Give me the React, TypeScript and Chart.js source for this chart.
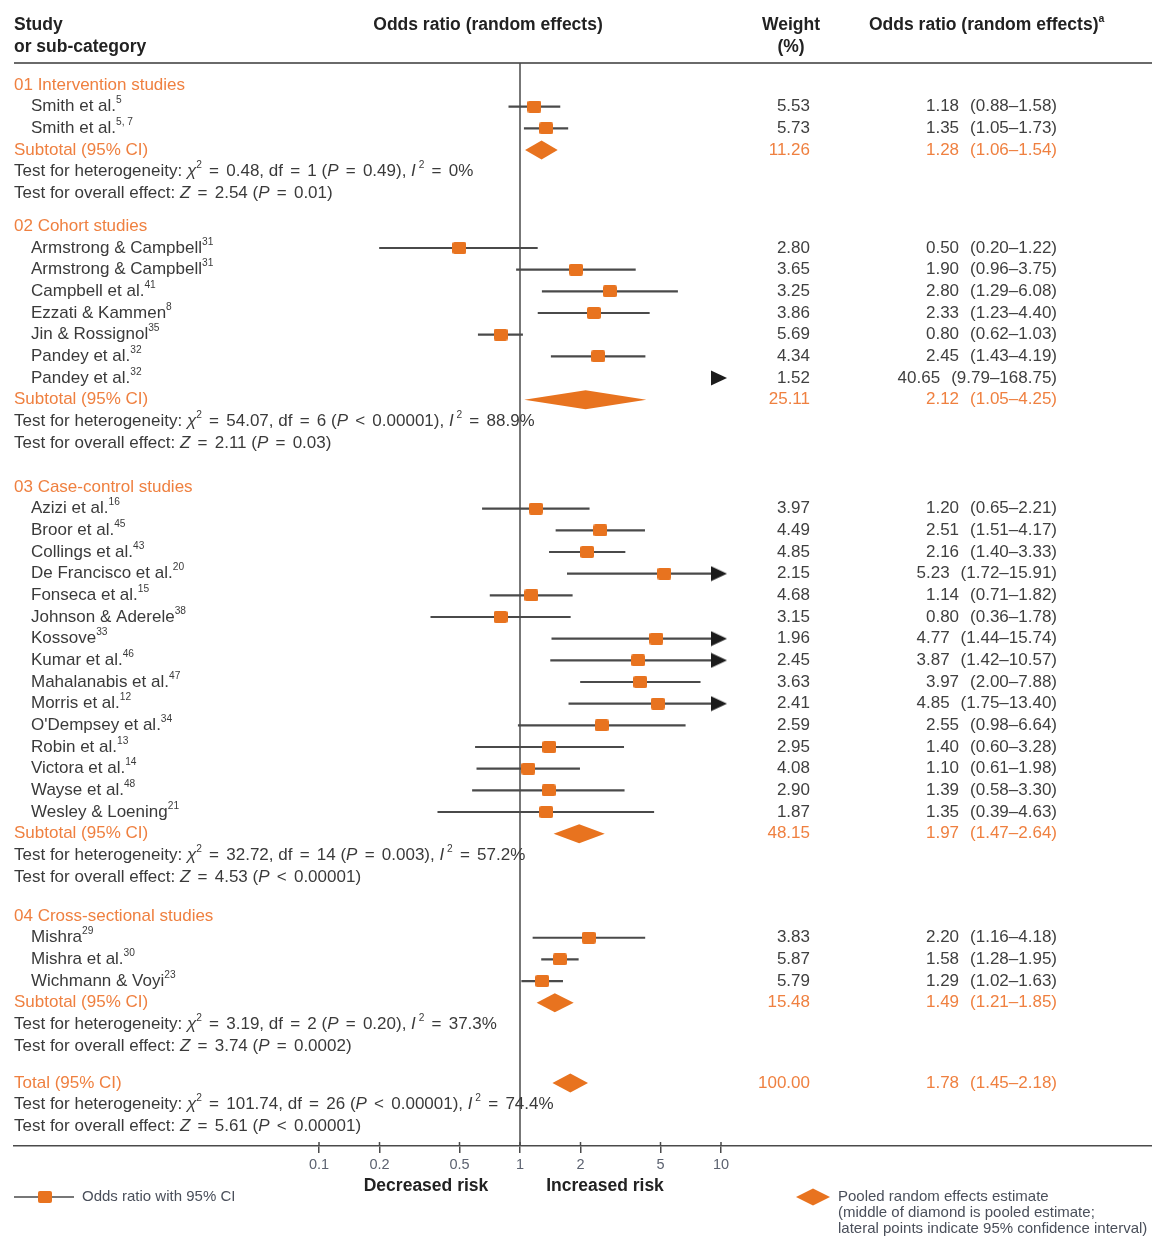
import React, { useEffect, useRef } from 'react';
import { Chart, registerables } from 'chart.js';

Chart.register(...registerables);

const W = 1152;
const H = 1238;

// ---------------- DATA ----------------
const groupTitles = ['01 Intervention studies', '02 Cohort studies', '03 Case-control studies', '04 Cross-sectional studies'];

const studyNames = ['Smith et al.', 'Smith et al.', 'Armstrong & Campbell', 'Armstrong & Campbell', 'Campbell et al.', 'Ezzati & Kammen', 'Jin & Rossignol', 'Pandey et al.', 'Pandey et al.', 'Azizi et al.', 'Broor et al.', 'Collings et al.', 'De Francisco et al.', 'Fonseca et al.', 'Johnson & Aderele', 'Kossove', 'Kumar et al.', 'Mahalanabis et al.', 'Morris et al.', "O'Dempsey et al.", 'Robin et al.', 'Victora et al.', 'Wayse et al.', 'Wesley & Loening', 'Mishra', 'Mishra et al.', 'Wichmann & Voyi'];
const studyRefs = ['5', '5, 7', '31', '31', '41', '8', '35', '32', '32', '16', '45', '43', '20', '15', '38', '33', '46', '47', '12', '34', '13', '14', '48', '21', '29', '30', '23'];
const studyGroup = [0, 0, 1, 1, 1, 1, 1, 1, 1, 2, 2, 2, 2, 2, 2, 2, 2, 2, 2, 2, 2, 2, 2, 2, 3, 3, 3];
const studyOR = [1.18, 1.35, 0.5, 1.9, 2.8, 2.33, 0.8, 2.45, 40.65, 1.2, 2.51, 2.16, 5.23, 1.14, 0.8, 4.77, 3.87, 3.97, 4.85, 2.55, 1.4, 1.1, 1.39, 1.35, 2.2, 1.58, 1.29];
const studyLow = [0.88, 1.05, 0.2, 0.96, 1.29, 1.23, 0.62, 1.43, 9.79, 0.65, 1.51, 1.4, 1.72, 0.71, 0.36, 1.44, 1.42, 2.0, 1.75, 0.98, 0.6, 0.61, 0.58, 0.39, 1.16, 1.28, 1.02];
const studyHigh = [1.58, 1.73, 1.22, 3.75, 6.08, 4.4, 1.03, 4.19, 168.75, 2.21, 4.17, 3.33, 15.91, 1.82, 1.78, 15.74, 10.57, 7.88, 13.4, 6.64, 3.28, 1.98, 3.3, 4.63, 4.18, 1.95, 1.63];
const studyWeight = ['5.53', '5.73', '2.80', '3.65', '3.25', '3.86', '5.69', '4.34', '1.52', '3.97', '4.49', '4.85', '2.15', '4.68', '3.15', '1.96', '2.45', '3.63', '2.41', '2.59', '2.95', '4.08', '2.90', '1.87', '3.83', '5.87', '5.79'];

const subtotalOR = [1.28, 2.12, 1.97, 1.49];
const subtotalLow = [1.06, 1.05, 1.47, 1.21];
const subtotalHigh = [1.54, 4.25, 2.64, 1.85];
const subtotalWeight = ['11.26', '25.11', '48.15', '15.48'];

const totalOR = 1.78;
const totalLow = 1.45;
const totalHigh = 2.18;
const totalWeight = '100.00';

// index 0-3: groups, 4: total
const hetChi = ['0.48', '54.07', '32.72', '3.19', '101.74'];
const hetDf = ['1', '6', '14', '2', '26'];
const hetP = ['= 0.49', '< 0.00001', '= 0.003', '= 0.20', '< 0.00001'];
const hetI2 = ['0%', '88.9%', '57.2%', '37.3%', '74.4%'];
const overallZ = ['2.54', '2.11', '4.53', '3.74', '5.61'];
const overallP = ['= 0.01', '= 0.03', '< 0.00001', '= 0.0002', '< 0.00001'];

const xTicks = [0.1, 0.2, 0.5, 1, 2, 5, 10];
const clipMax = 10;

// ---------------- LAYOUT / STYLE ----------------
const FONT = '"Liberation Sans", Arial, Helvetica, sans-serif';
const ORANGE = '#E8731F';
const ORANGE_TXT = '#EF8040';
const TEXT = '#3a3a3a';
const NUM = '#404040';
const LINE = '#4a4a4a';
const BODY = 17;
const HEAD = 17.5;
const OP_PAD = 2.5;

const ROW = 21.67;
const FIRST_ROW_PX = 85;
const AXIS_PX = 1146;
const HEADER_LINE_PX = 63;
const LEFT = 14;
const ONE_PX = 520;
const DECADE_PX = 201;
const GROUP_GAP = [0, 1.52, 2.03, 1.8];
const TOTAL_GAP = 1.7;

const xMin = Math.pow(10, -(ONE_PX - LEFT) / DECADE_PX);
const xMax = Math.pow(10, (W - ONE_PX) / DECADE_PX);
const yMin = -FIRST_ROW_PX / ROW;
const yMax = yMin + AXIS_PX / ROW;

type Row = { kind: string; pos: number; i: number };

function buildRows(): Row[] {
  const rows: Row[] = [];
  let pos = 0;
  let last = 0;
  groupTitles.forEach((_, g) => {
    if (g > 0) pos = last + GROUP_GAP[g];
    rows.push({ kind: 'group', pos, i: g });
    studyGroup.forEach((sg, s) => {
      if (sg === g) {
        pos += 1;
        rows.push({ kind: 'study', pos, i: s });
      }
    });
    pos += 1;
    rows.push({ kind: 'subtotal', pos, i: g });
    pos += 1;
    rows.push({ kind: 'het', pos, i: g });
    pos += 1;
    rows.push({ kind: 'overall', pos, i: g });
    last = pos;
  });
  pos = last + TOTAL_GAP;
  rows.push({ kind: 'total', pos, i: 4 });
  pos += 1;
  rows.push({ kind: 'het', pos, i: 4 });
  pos += 1;
  rows.push({ kind: 'overall', pos, i: 4 });
  return rows;
}

type Seg = { t: string; it?: boolean; sup?: boolean; bold?: boolean };

function drawRich(ctx: CanvasRenderingContext2D, segs: Seg[], x: number, y: number, size: number, color: string) {
  let cx = x;
  ctx.fillStyle = color;
  ctx.textAlign = 'left';
  ctx.textBaseline = 'middle';
  for (const s of segs) {
    const fs = s.sup ? size * 0.6 : size;
    ctx.font = `${s.it ? 'italic ' : ''}${s.bold ? 'bold ' : ''}${fs}px ${FONT}`;
    const dy = s.sup ? -size * 0.36 : 0;
    const parts = s.t.split(/( [=<] )/);
    for (const p of parts) {
      if (!p) continue;
      const isOp = p === ' = ' || p === ' < ';
      if (isOp) cx += OP_PAD;
      ctx.fillText(p, cx, y + dy);
      cx += ctx.measureText(p).width;
      if (isOp) cx += OP_PAD;
    }
  }
  return cx;
}

function hetSegs(i: number): Seg[] {
  return [
    { t: 'Test for heterogeneity: ' },
    { t: 'χ', it: true },
    { t: '2', sup: true },
    { t: ` = ${hetChi[i]}, df = ${hetDf[i]} (` },
    { t: 'P', it: true },
    { t: ` ${hetP[i]}), ` },
    { t: 'I', it: true },
    { t: ' 2', sup: true },
    { t: ` = ${hetI2[i]}` },
  ];
}

function overallSegs(i: number): Seg[] {
  return [
    { t: 'Test for overall effect: ' },
    { t: 'Z', it: true },
    { t: ` = ${overallZ[i]} (` },
    { t: 'P', it: true },
    { t: ` ${overallP[i]})` },
  ];
}

function makeSquare(): HTMLCanvasElement {
  const c = document.createElement('canvas');
  c.width = 14;
  c.height = 12;
  const g = c.getContext('2d')!;
  g.fillStyle = ORANGE;
  g.beginPath();
  if ((g as any).roundRect) (g as any).roundRect(0, 0, 14, 12, 2);
  else g.rect(0, 0, 14, 12);
  g.fill();
  return c;
}

function makeArrow(): HTMLCanvasElement {
  const c = document.createElement('canvas');
  c.width = 20;
  c.height = 16;
  const g = c.getContext('2d')!;
  g.fillStyle = '#1c1c1c';
  g.beginPath();
  g.moveTo(0, 0.5);
  g.lineTo(16, 8);
  g.lineTo(0, 15.5);
  g.closePath();
  g.fill();
  return c;
}

function diamond(ctx: CanvasRenderingContext2D, xl: number, xc: number, xr: number, y: number, hh: number) {
  ctx.beginPath();
  ctx.moveTo(xl, y);
  ctx.lineTo(xc, y - hh);
  ctx.lineTo(xr, y);
  ctx.lineTo(xc, y + hh);
  ctx.closePath();
  ctx.fill();
}

function fmt(v: number) {
  return v.toFixed(2);
}

export default function App() {
  const ref = useRef<HTMLCanvasElement | null>(null);

  useEffect(() => {
    document.body.style.margin = '0';
    const canvas = ref.current;
    if (!canvas) return;
    const rows = buildRows();
    const studyRows = rows.filter((r) => r.kind === 'study');
    const square = makeSquare();
    const arrow = makeArrow();

    const ciData = studyRows.map((r) => ({
      x: [Math.max(studyLow[r.i], xMin), Math.min(studyHigh[r.i], clipMax)],
      y: r.pos,
    }));
    const pointData = studyRows.filter((r) => studyOR[r.i] <= clipMax).map((r) => ({ x: studyOR[r.i], y: r.pos }));
    const arrowData = studyRows.filter((r) => studyHigh[r.i] > clipMax).map((r) => ({ x: clipMax, y: r.pos }));

    const forestPlugin = {
      id: 'forest',
      beforeDatasetsDraw(chart: any) {
        const { ctx, chartArea } = chart;
        const xs = chart.scales.x;
        ctx.save();
        ctx.strokeStyle = '#6a6a6a';
        ctx.lineWidth = 2;
        ctx.beginPath();
        ctx.moveTo(LEFT, HEADER_LINE_PX);
        ctx.lineTo(W, HEADER_LINE_PX);
        ctx.stroke();
        ctx.strokeStyle = LINE;
        ctx.lineWidth = 1.5;
        ctx.beginPath();
        const p1 = xs.getPixelForValue(1);
        ctx.moveTo(p1, HEADER_LINE_PX);
        ctx.lineTo(p1, chartArea.bottom);
        ctx.stroke();
        // upward tick stubs
        ctx.beginPath();
        xTicks.forEach((t) => {
          const p = xs.getPixelForValue(t);
          ctx.moveTo(p, chartArea.bottom - 4);
          ctx.lineTo(p, chartArea.bottom);
        });
        ctx.stroke();
        ctx.restore();
      },
      afterDatasetsDraw(chart: any) {
        const { ctx } = chart;
        const xs = chart.scales.x;
        const ys = chart.scales.y;
        ctx.save();
        ctx.fillStyle = ORANGE;
        rows.forEach((r) => {
          if (r.kind === 'subtotal') {
            diamond(ctx, xs.getPixelForValue(subtotalLow[r.i]), xs.getPixelForValue(subtotalOR[r.i]), xs.getPixelForValue(subtotalHigh[r.i]), ys.getPixelForValue(r.pos), 9.5);
          } else if (r.kind === 'total') {
            diamond(ctx, xs.getPixelForValue(totalLow), xs.getPixelForValue(totalOR), xs.getPixelForValue(totalHigh), ys.getPixelForValue(r.pos), 9.5);
          }
        });
        ctx.restore();
      },
      afterDraw(chart: any) {
        const { ctx } = chart;
        const ys = chart.scales.y;
        ctx.save();
        // header
        ctx.textBaseline = 'middle';
        ctx.fillStyle = '#222';
        ctx.font = `bold ${HEAD}px ${FONT}`;
        ctx.textAlign = 'left';
        ctx.fillText('Study', LEFT, 25);
        ctx.fillText('or sub-category', LEFT, 47);
        ctx.textAlign = 'center';
        ctx.fillText('Odds ratio (random effects)', 488, 25);
        ctx.fillText('Weight', 791, 25);
        ctx.fillText('(%)', 791, 47);
        drawRich(ctx, [{ t: 'Odds ratio (random effects)', bold: true }, { t: 'a', sup: true, bold: true }], 869, 25, HEAD, '#222');

        rows.forEach((r) => {
          const y = ys.getPixelForValue(r.pos);
          ctx.textBaseline = 'middle';
          let w = '';
          let or = 0, lo = 0, hi = 0;
          let col = NUM;
          if (r.kind === 'group') {
            drawRich(ctx, [{ t: groupTitles[r.i] }], LEFT, y, BODY, ORANGE_TXT);
            return;
          } else if (r.kind === 'study') {
            drawRich(ctx, [{ t: studyNames[r.i] }, { t: studyRefs[r.i], sup: true }], 31, y, BODY, TEXT);
            w = studyWeight[r.i];
            or = studyOR[r.i]; lo = studyLow[r.i]; hi = studyHigh[r.i];
          } else if (r.kind === 'subtotal') {
            drawRich(ctx, [{ t: 'Subtotal (95% CI)' }], LEFT, y, BODY, ORANGE_TXT);
            w = subtotalWeight[r.i];
            or = subtotalOR[r.i]; lo = subtotalLow[r.i]; hi = subtotalHigh[r.i];
            col = ORANGE_TXT;
          } else if (r.kind === 'total') {
            drawRich(ctx, [{ t: 'Total (95% CI)' }], LEFT, y, BODY, ORANGE_TXT);
            w = totalWeight;
            or = totalOR; lo = totalLow; hi = totalHigh;
            col = ORANGE_TXT;
          } else if (r.kind === 'het') {
            drawRich(ctx, hetSegs(r.i), LEFT, y, BODY, TEXT);
            return;
          } else if (r.kind === 'overall') {
            drawRich(ctx, overallSegs(r.i), LEFT, y, BODY, TEXT);
            return;
          }
          ctx.fillStyle = col;
          ctx.font = `${BODY}px ${FONT}`;
          ctx.textAlign = 'right';
          ctx.fillText(w, 810, y);
          const ci = `(${fmt(lo)}–${fmt(hi)})`;
          ctx.fillText(ci, 1057, y);
          const ciW = ctx.measureText(ci).width;
          ctx.fillText(fmt(or), 1057 - ciW - 11, y);
        });

        // axis captions
        ctx.fillStyle = '#222';
        ctx.font = `bold ${HEAD}px ${FONT}`;
        ctx.textAlign = 'center';
        ctx.textBaseline = 'middle';
        ctx.fillText('Decreased risk', 426, 1186);
        ctx.fillText('Increased risk', 605, 1186);

        // legend left
        ctx.strokeStyle = LINE;
        ctx.lineWidth = 1.5;
        ctx.beginPath();
        ctx.moveTo(LEFT, 1197);
        ctx.lineTo(74, 1197);
        ctx.stroke();
        ctx.drawImage(square, 45 - 7, 1197 - 6);
        ctx.fillStyle = '#4a4f5a';
        ctx.font = `15px ${FONT}`;
        ctx.textAlign = 'left';
        ctx.fillText('Odds ratio with 95% CI', 82, 1197);

        // legend right
        ctx.fillStyle = ORANGE;
        diamond(ctx, 796, 813, 830, 1197, 8.5);
        ctx.fillStyle = '#4a4f5a';
        ctx.fillText('Pooled random effects estimate', 838, 1197);
        ctx.fillText('(middle of diamond is pooled estimate;', 838, 1213);
        ctx.fillText('lateral points indicate 95% confidence interval)', 838, 1229);
        ctx.restore();
      },
    };

    const chart = new Chart(canvas, {
      type: 'bar',
      data: {
        datasets: [
          {
            type: 'bar',
            label: 'CI',
            indexAxis: 'y',
            data: ciData as any,
            backgroundColor: LINE,
            borderWidth: 0,
            barThickness: 1.5,
            grouped: false,
            order: 3,
          } as any,
          {
            type: 'scatter',
            label: 'Odds ratio',
            data: pointData,
            pointStyle: square,
            pointRadius: 6,
            pointHoverRadius: 6,
            pointBorderWidth: 0,
            order: 2,
          } as any,
          {
            type: 'scatter',
            label: 'Beyond axis',
            data: arrowData,
            pointStyle: arrow,
            pointRadius: 6,
            pointHoverRadius: 6,
            pointBorderWidth: 0,
            order: 1,
          } as any,
        ],
      },
      options: {
        responsive: false,
        maintainAspectRatio: false,
        animation: false,
        events: [],
        layout: { autoPadding: false, padding: { left: LEFT, right: 0, top: 0, bottom: 0 } },
        plugins: { legend: { display: false }, tooltip: { enabled: false } },
        scales: {
          x: {
            type: 'logarithmic',
            position: 'bottom',
            min: xMin,
            max: xMax,
            bounds: 'data',
            offset: false,
            afterBuildTicks: (s: any) => {
              s.ticks = xTicks.map((v) => ({ value: v }));
            },
            afterFit: (s: any) => {
              s.height = H - AXIS_PX;
              s.paddingLeft = 0;
              s.paddingRight = 0;
            },
            grid: { drawOnChartArea: false, drawTicks: true, tickLength: 7, color: LINE, lineWidth: 1.5, offset: false },
            border: { display: true, color: LINE, width: 1.5 },
            ticks: {
              autoSkip: false,
              maxRotation: 0,
              padding: 3,
              color: '#5c6270',
              font: { family: FONT, size: 14.5 },
              callback: (v: any) => String(v),
            },
          } as any,
          y: {
            type: 'linear',
            display: false,
            min: yMin,
            max: yMax,
            reverse: true,
            offset: false,
            beginAtZero: false,
            grid: { offset: false },
          } as any,
        },
      },
      plugins: [forestPlugin],
    });

    return () => chart.destroy();
  }, []);

  return (
    <div style={{ width: W, height: H, overflow: 'hidden', background: '#fff' }}>
      <canvas ref={ref} width={W} height={H} style={{ display: 'block', width: W, height: H }} />
    </div>
  );
}
